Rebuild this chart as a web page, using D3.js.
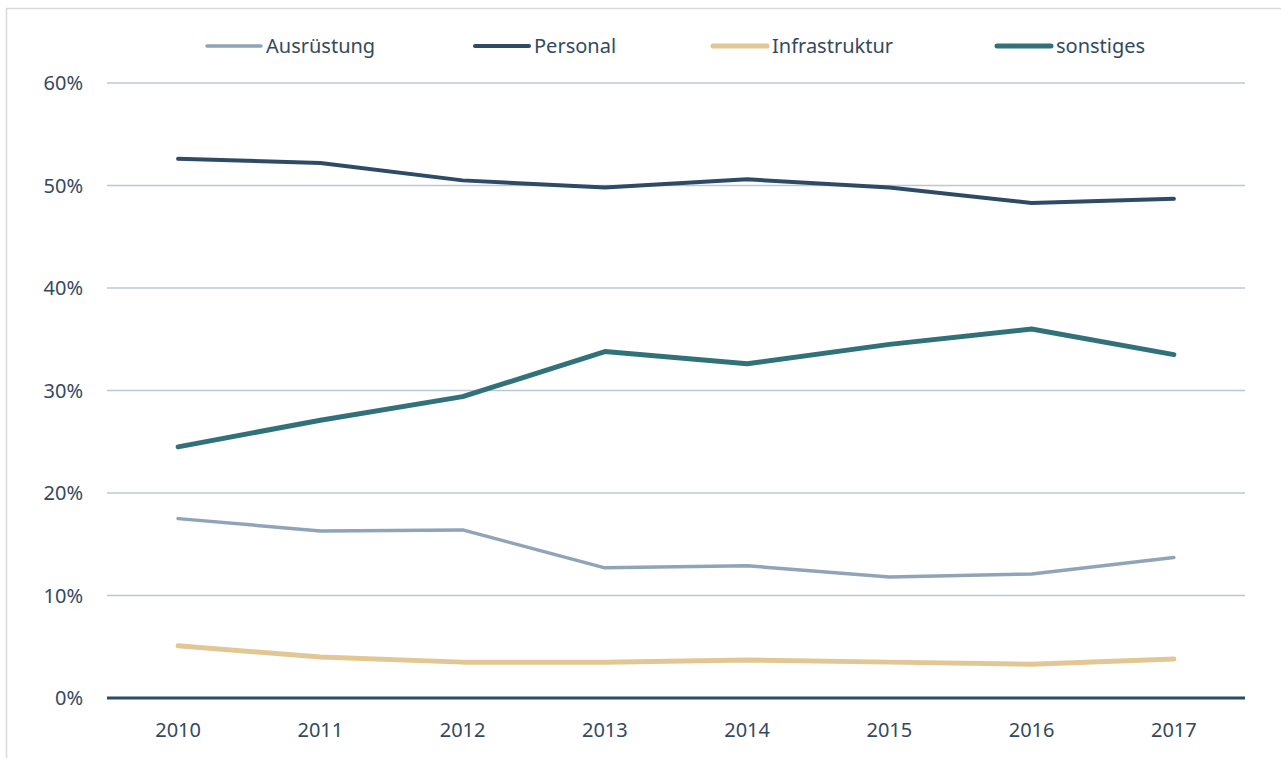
<!DOCTYPE html>
<html><head><meta charset="utf-8">
<script src="https://cdn.jsdelivr.net/npm/d3@7"></script>
<style>
body{margin:0;background:#fff;}
svg text{font-family:"Noto Sans","Open Sans",sans-serif;fill:#34495e;}
</style></head>
<body><svg id="c" width="1281" height="758"></svg>
<script>
const years = ["2010","2011","2012","2013","2014","2015","2016","2017"];
const ausruestung = [17.5,16.3,16.4,12.7,12.9,11.8,12.1,13.7];
const personal = [52.6,52.2,50.5,49.8,50.6,49.8,48.3,48.7];
const infrastruktur = [5.1,4.0,3.5,3.5,3.7,3.5,3.3,3.8];
const sonstiges = [24.5,27.1,29.4,33.8,32.6,34.5,36.0,33.5];
const yTicks = [0,10,20,30,40,50,60];
const seriesNames = ["Ausrüstung","Personal","Infrastruktur","sonstiges"];

const series = [
  {name:seriesNames[0], values:ausruestung, color:"#8fa4b9", w:3.5},
  {name:seriesNames[1], values:personal, color:"#2d4a67", w:4},
  {name:seriesNames[2], values:infrastruktur, color:"#e2c795", w:5},
  {name:seriesNames[3], values:sonstiges, color:"#31727a", w:5}
];

const svg = d3.select("#c");
svg.append("path").attr("d","M6.5,760 L6.5,8.5 L1290,8.5").attr("fill","none").attr("stroke","#d9d9d9").attr("stroke-width",1.5);

const x = d3.scaleBand().domain(years).range([107,1245]);
const y = d3.scaleLinear().domain([0,60]).range([698,83]);

svg.append("g").selectAll("line").data(yTicks.filter(d=>d>0)).join("line")
  .attr("x1",107).attr("x2",1245).attr("y1",d=>y(d)).attr("y2",d=>y(d))
  .attr("stroke","#b9c8d6").attr("stroke-width",1.5);

svg.append("g").selectAll("text").data(yTicks).join("text")
  .attr("x",83).attr("y",d=>y(d)).attr("dy","0.35em").attr("text-anchor","end")
  .attr("font-size",20).text(d=>d+"%");

svg.append("g").selectAll("text").data(years).join("text")
  .attr("x",d=>x(d)+x.bandwidth()/2).attr("y",730).attr("dy","0.35em").attr("text-anchor","middle")
  .attr("font-size",20).text(d=>d);

const line = d3.line().x((d,i)=>x(years[i])+x.bandwidth()/2).y(d=>y(d));
svg.append("g").selectAll("path").data(series).join("path")
  .attr("d",d=>line(d.values)).attr("fill","none").attr("stroke",d=>d.color)
  .attr("stroke-width",d=>d.w).attr("stroke-linecap","round").attr("stroke-linejoin","round");

svg.append("line").attr("x1",107).attr("x2",1245).attr("y1",y(0)).attr("y2",y(0))
  .attr("stroke","#2d4a67").attr("stroke-width",3);

const legX = [207,475,713,997];
const lg = svg.append("g").selectAll("g").data(series).join("g")
  .attr("transform",(d,i)=>`translate(${legX[i]},46)`);
lg.append("line").attr("x1",0).attr("x2",54).attr("y1",0).attr("y2",0)
  .attr("stroke",d=>d.color).attr("stroke-width",d=>d.w).attr("stroke-linecap","round");
lg.append("text").attr("x",59).attr("y",0).attr("dy","0.35em").attr("font-size",20).text(d=>d.name);
</script></body></html>
